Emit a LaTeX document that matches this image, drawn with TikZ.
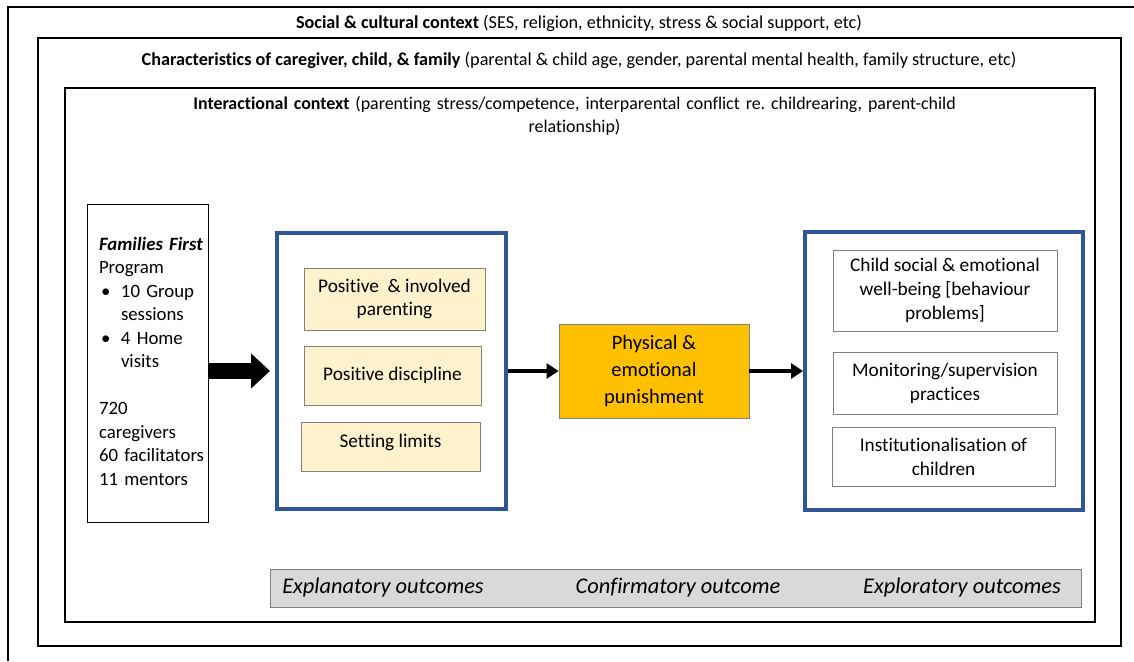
\documentclass[tikz,border=0pt]{standalone}
\usepackage{fontspec}
\setmainfont{Carlito}[Ligatures=NoCommon]
\usetikzlibrary{arrows.meta,calc}
\frenchspacing

\begin{document}
\begin{tikzpicture}[x=1pt,y=-1pt,line join=miter,
  font=\fontsize{19.3}{23.8}\selectfont,
  >={Triangle[length=12pt,width=15pt]}]
  \definecolor{navy}{HTML}{2F5597}
  \definecolor{cream}{HTML}{FFF2CC}
  \definecolor{amber}{HTML}{FFC000}
  \definecolor{barfill}{HTML}{D9D9D9}
  \definecolor{edge}{HTML}{808080}
  \tikzset{
    headline/.style={font=\fontsize{18.2}{23}\selectfont,align=center},
    group/.style={draw=navy,line width=4pt,inner sep=0pt},
    practice/.style={draw=edge,fill=cream,line width=0.9pt,align=center,inner sep=2pt},
    outcome/.style={draw=edge,fill=white,line width=0.9pt,align=center,inner sep=2pt},
    tag/.style={font=\fontsize{22.4}{24}\selectfont\itshape}
  }

  \useasboundingbox (0,0) rectangle (1134,661);

  % nested contexts
  \draw[line width=1.4pt] (8,661) |- (1134,7);
  \draw[line width=1.2pt] (38,38) rectangle (1121,646);
  \draw[line width=1.2pt] (65,88) rectangle (1095,622);
  \node[headline] (social) at (579,23)
    {\textbf{Social \& cultural context} (SES, religion, ethnicity, stress \& social support, etc)};
  \node[headline] (family) at (579,60)
    {\textbf{Characteristics of caregiver, child, \& family} (parental \& child age, gender, parental mental health, family structure, etc)};
  \node[headline,text width=900pt,font=\fontsize{17.9}{23}\selectfont] (interact) at (574.5,116)
    {\textbf{Interactional context} (parenting stress/competence, interparental conflict re. childrearing, parent-child\\relationship)};

  % programme
  \node[draw,line width=0.9pt,minimum width=121pt,minimum height=318pt] (program) at (147.5,363) {};
  \node[text width=108pt,align=left,inner sep=0pt,font=\fontsize{18.8}{23.5}\selectfont]
    (programtext) at (153,361)
    {\textbf{\textit{Families First}}\\
     Program\\
     \makebox[22pt][l]{\hspace*{2pt}\textbullet}10 Group\\
     \hspace*{22pt}sessions\\
     \makebox[22pt][l]{\hspace*{2pt}\textbullet}4 Home\\
     \hspace*{22pt}visits\\[23.5pt]
     720\\
     caregivers\\
     60 facilitators\\
     11 mentors};

  % explanatory outcomes
  \node[group,minimum width=229pt,minimum height=276pt] (explan) at (391.5,371) {};
  \node[practice,minimum width=181pt,minimum height=62pt] (involved) at (394.5,299)
    {Positive\ \ \& involved\\parenting};
  \node[practice,minimum width=177pt,minimum height=59pt] (discipline) at (392.5,375.5)
    {Positive discipline};
  \node[practice,minimum width=179pt,minimum height=49pt,text depth=12pt] (limits) at (390.5,446.5)
    {Setting limits};

  % confirmatory outcome
  \node[draw=edge,fill=amber,line width=0.9pt,minimum width=190pt,minimum height=94pt,
    align=center,font=\fontsize{20.5}{27}\selectfont] (punish) at (654,371)
    {Physical \&\\emotional\\punishment};

  % exploratory outcomes
  \node[group,minimum width=278pt,minimum height=278pt] (explor) at (944,371) {};
  \node[outcome,minimum width=224pt,minimum height=81pt] (wellbeing) at (945,290.5)
    {Child social \& emotional\\well-being [behaviour\\problems]};
  \node[outcome,minimum width=224pt,minimum height=62pt] (monitor) at (945,383)
    {Monitoring/supervision\\practices};
  \node[outcome,minimum width=223pt,minimum height=59pt] (institution) at (943.5,456.5)
    {Institutionalisation of\\children};

  % arrows
  \draw[line width=16pt,-{Triangle[length=19pt,width=34pt]},shorten >=5pt]
    (program.east |- explan.west) -- (explan.west);
  \draw[->,line width=4pt] (explan.east) -- (punish.west);
  \draw[->,line width=4pt] (punish.east) -- (explor.west);

  % outcome labels
  \node[draw=edge,fill=barfill,line width=1pt,minimum width=811pt,minimum height=38pt] (bar) at (675.5,588) {};
  \node[tag] (tagexplan) at (383,588) {Explanatory outcomes};
  \node[tag] (tagconf) at (678,588) {Confirmatory outcome};
  \node[tag] (tagexplor) at (962,588) {Exploratory outcomes};
\end{tikzpicture}
\end{document}
